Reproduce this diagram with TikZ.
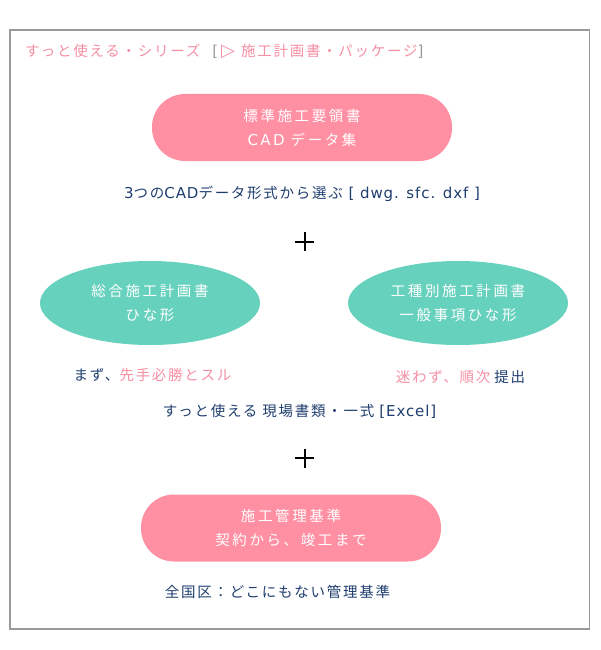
\documentclass[tikz,border=0pt]{standalone}
\usepackage{fontspec}
\usetikzlibrary{shapes.geometric}
\newfontfamily\jp[LetterSpace=12]{Noto Sans CJK JP}
\newfontfamily\jpw[LetterSpace=18]{Noto Sans CJK JP}
\newfontfamily\latf[LetterSpace=6]{DejaVu Sans}
\newfontfamily\symf{DejaVu Sans}
\newcommand\lat[1]{{\latf\fontsize{15}{17}\selectfont #1}}
\definecolor{pinkfill}{HTML}{FF90A3}
\definecolor{pinktext}{HTML}{F58FA3}
\definecolor{tealfill}{HTML}{66D1BD}
\definecolor{navy}{HTML}{1E3D6E}
\definecolor{framec}{HTML}{9A9A9A}
\tikzset{
  pill/.style={fill=pinkfill, rounded corners=33pt, minimum width=300pt, minimum height=67pt, inner sep=0pt,
    text=white, align=center, font=\jpw\fontsize{14.5}{24}\selectfont},
  oval/.style={ellipse, fill=tealfill, minimum width=220pt, minimum height=84pt, inner sep=0pt,
    text=white, align=center, font=\jpw\fontsize{14.5}{24}\selectfont},
  caption/.style={text=navy, inner sep=0pt, font=\jp\fontsize{14.5}{17}\selectfont},
  plusline/.style={line width=2pt, black}
}
\begin{document}
\begin{tikzpicture}[x=1pt,y=-1pt]
\useasboundingbox (0,0) rectangle (600,650);
\draw[framec, line width=1.2pt] (10,30) rectangle (589.5,629);
\node[anchor=west, inner sep=0pt, text=pinktext, font=\jp\fontsize{14.5}{17}\selectfont] (hdr) at (25,51)
  {すっと使える・シリーズ\hspace{12pt}{\color{framec}\lat{[}}\hspace{3pt}{\symf\fontsize{18}{17}\selectfont ▷}\hspace{6pt}施工計画書・パッケージ{\color{framec}\lat{]}}};
\node[pill] (cad) at (302,127.5) {標準施工要領書\\\lat{C\,A\,D} データ集};
\node[caption] (cadc) at (302,194) {\lat{3}つの\lat{CAD}データ形式から選ぶ\lat{\ [ dwg. sfc. dxf ]}};
\draw[plusline] (295,241.5) -- (314,241.5);
\draw[plusline] (304.5,232) -- (304.5,251);
\node[oval] (sogo) at (150,303) {総合施工計画書\\ひな形};
\node[oval] (koshu) at (458,303) {工種別施工計画書\\一般事項ひな形};
\node[caption] (sogoc) at (152.5,375) {まず、{\color{pinktext}先手必勝とスル}};
\node[caption] (koshuc) at (460.5,377) {{\color{pinktext}迷わず、順次}\hspace{4pt}提出};
\node[caption] (genba) at (299.5,411) {すっと使える 現場書類・一式 \lat{[Excel]}};
\draw[plusline] (295,458) -- (314,458);
\draw[plusline] (304.5,448.5) -- (304.5,467.5);
\node[pill] (kanri) at (291,528) {施工管理基準\\契約から、竣工まで};
\node[caption] (kanric) at (277.5,592) {全国区：どこにもない管理基準};
\end{tikzpicture}
\end{document}
